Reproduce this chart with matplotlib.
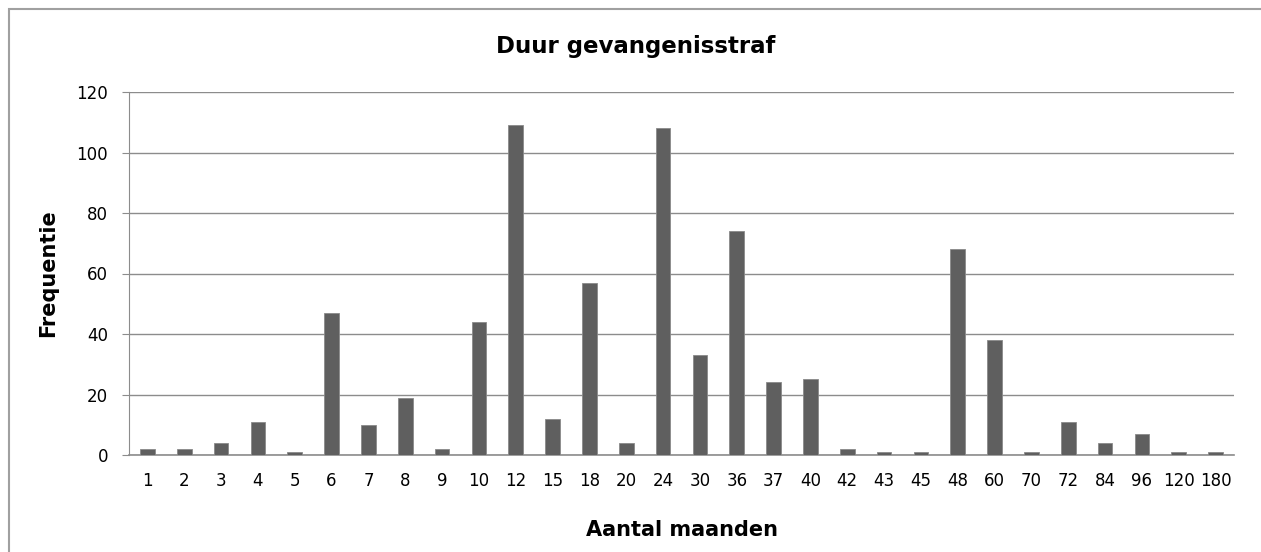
import matplotlib.pyplot as plt
import matplotlib.patches as patches
import numpy as np

# maanden en frequenties
maanden = ["1", "2", "3", "4", "5", "6", "7", "8", "9", "10", "12", "15", "18", "20", "24",
           "30", "36", "37", "40", "42", "43", "45", "48", "60", "70", "72", "84", "96", "120", "180"]
frequentie = [2, 2, 4, 11, 1, 47, 10, 19, 2, 44, 109, 12, 57, 4, 108,
              33, 74, 24, 25, 2, 1, 1, 68, 38, 1, 11, 4, 7, 1, 1]
yticks = [0, 20, 40, 60, 80, 100, 120]

plt.rcParams['font.family'] = ['DejaVu Sans']

fig = plt.figure(figsize=(12.61, 5.52), dpi=100)
ax = fig.add_axes([129/1261, 97/552, (1234-129)/1261, (455-92)/552])

x = np.arange(len(maanden))
ax.bar(x, frequentie, width=0.4, color='#5f5f5f', edgecolor='#8a8a8a', linewidth=0.6, zorder=3)

ax.set_xlim(-0.5, len(maanden) - 0.5)
ax.set_ylim(0, 120)
ax.set_yticks(yticks)
ax.set_xticks(x)
ax.set_xticklabels(maanden)
ax.yaxis.grid(True, color='#8c8c8c', linewidth=1.0, zorder=0)

for side in ['top', 'right']:
    ax.spines[side].set_visible(False)
ax.spines['left'].set_color('#8c8c8c')
ax.spines['bottom'].set_color('#8c8c8c')
ax.spines['bottom'].set_linewidth(1.2)
ax.tick_params(axis='y', length=5, color='#8c8c8c', labelsize=12, pad=10)
ax.tick_params(axis='x', length=0, labelsize=12, pad=12)

fig.text(636/1261, 1 - 47/552, "Duur gevangenisstraf", fontsize=16.5, fontweight='bold',
         ha='center', va='center')
ax.set_xlabel("Aantal maanden", fontsize=15, fontweight='bold', labelpad=22)
ax.set_ylabel("Frequentie", fontsize=15, fontweight='bold', labelpad=13)

# kader rond de grafiek
fig.patches.append(patches.Rectangle((9/1261, -0.05), 1.05, 1 - 9/552 + 0.05,
                                     transform=fig.transFigure, fill=False,
                                     edgecolor='#a0a0a0', linewidth=1.5))

fig.savefig("out.png", dpi=100)
